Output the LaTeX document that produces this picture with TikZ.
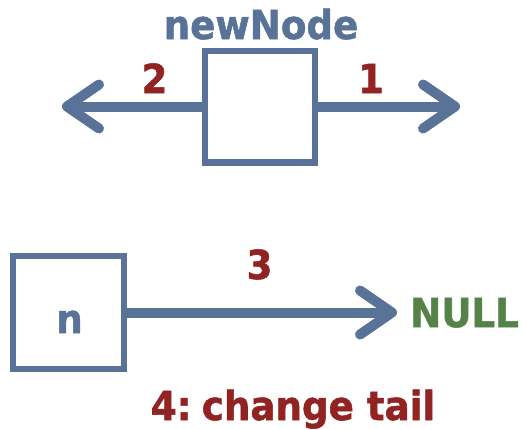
\documentclass[tikz,border=0pt]{standalone}
\usepackage{fontspec}
\setmainfont{DejaVu Sans}[FakeStretch=0.93, BoldFeatures={FakeBold=1.3}]
\usetikzlibrary{arrows.meta}
\definecolor{steel}{RGB}{88,114,152}
\definecolor{darkred}{RGB}{145,35,35}
\definecolor{nullgreen}{RGB}{84,130,72}
\tikzset{
  x=1pt, y=-1pt,
  cell/.style={draw=steel, line width=6.5pt, fill=white, inner sep=0pt},
  ptr/.style={draw=steel, line width=10pt,
    -{Straight Barb[length=32pt, width=44pt, round]}},
  txt/.style={font=\fontsize{40pt}{40pt}\selectfont\bfseries, inner sep=0pt, anchor=base},
  stepnum/.style={txt, text=darkred},
}
\begin{document}
\begin{tikzpicture}
\useasboundingbox (0,0) rectangle (527,429);
% the new node with its two outgoing links
\node[cell, minimum width=110pt, minimum height=111.5pt] (nn) at (260,106.5) {};
\node[txt, text=steel] (nnlabel) at (261,39) {newNode};
\coordinate (lefttip) at (62,106.5);
\coordinate (righttip) at (460,106.5);
\draw[ptr] (nn.west) -- (lefttip);
\draw[ptr] (nn.east) -- (righttip);
\node[stepnum] (s2) at (154.5,93) {2};
\node[stepnum] (s1) at (371,93) {1};
% the current tail node n pointing to NULL
\node[cell, minimum width=111pt, minimum height=113pt] (n) at (68.5,312.5) {};
\node[txt, text=steel] (nlabel) at (69.5,333) {n};
\node[txt, text=nullgreen, anchor=base west] (null) at (410,327) {NULL};
\coordinate (nulltip) at (397,312.5);
\draw[ptr] (n.east) -- (nulltip);
\node[stepnum] (s3) at (259.5,279) {3};
\node[stepnum] (s4) at (293,420) {4:\hspace{-7pt} change tail};
\end{tikzpicture}
\end{document}
